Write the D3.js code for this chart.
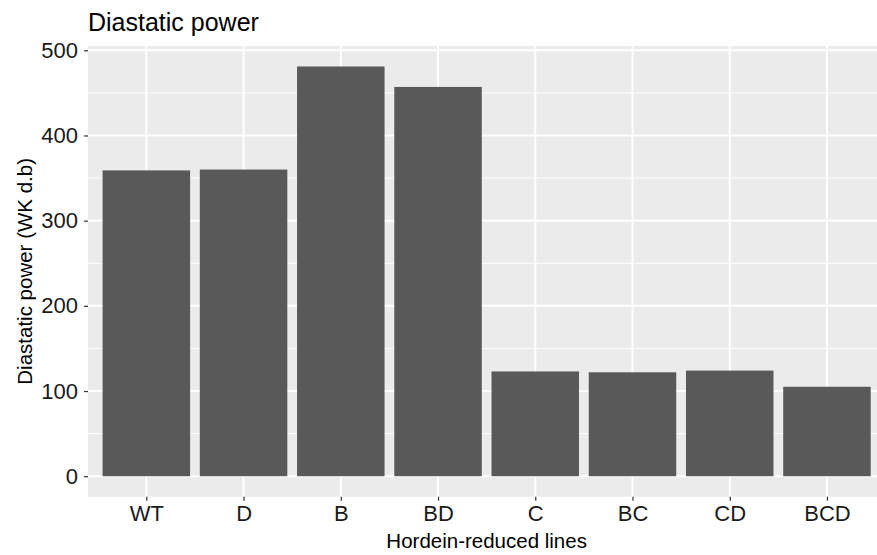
<!DOCTYPE html>
<html>
<head>
<meta charset="utf-8">
<script src="https://cdn.jsdelivr.net/npm/d3@7"></script>
<style>
  html, body { margin: 0; padding: 0; background: #fff; }
  svg { display: block; font-family: "Liberation Sans", Arial, sans-serif; }
</style>
</head>
<body>
<svg id="chart" width="877" height="555"></svg>
<script>
// Diastatic power of hordein-reduced barley lines
const lines = ["WT", "D", "B", "BD", "C", "BC", "CD", "BCD"];
const power = [359, 360, 481, 457, 123, 122, 124, 105];
const yTicks = [0, 100, 200, 300, 400, 500];
const yMinor = [50, 150, 250, 350, 450];

const titleText = "Diastatic power";
const xTitle = "Hordein-reduced lines";
const yTitle = "Diastatic power (WK d.b)";

const W = 877, H = 555;
const panel = { left: 88, top: 46, right: 885.3, bottom: 496.7 };

const svg = d3.select("#chart");

// Discrete x positions with ggplot-style 0.6 expansion on each side
const x = d3.scalePoint()
  .domain(lines)
  .range([panel.left, panel.right])
  .padding(0.6);
const barW = x.step() * 0.9;

// Continuous y with 5% expansion around [0, max]
const yMax = d3.max(power);
const pad = yMax * 0.05;
const y = d3.scaleLinear()
  .domain([-pad, yMax + pad])
  .range([panel.bottom, panel.top]);

// Panel background
svg.append("rect")
  .attr("x", panel.left).attr("y", panel.top)
  .attr("width", panel.right - panel.left)
  .attr("height", panel.bottom - panel.top)
  .attr("fill", "#EBEBEB");

const grid = svg.append("g");
// minor horizontal grid
grid.selectAll("line.minor").data(yMinor).join("line")
  .attr("x1", panel.left).attr("x2", panel.right)
  .attr("y1", d => y(d)).attr("y2", d => y(d))
  .attr("stroke", "#fff").attr("stroke-width", 1);
// major horizontal grid
grid.selectAll("line.majorY").data(yTicks).join("line")
  .attr("x1", panel.left).attr("x2", panel.right)
  .attr("y1", d => y(d)).attr("y2", d => y(d))
  .attr("stroke", "#fff").attr("stroke-width", 2);
// major vertical grid
grid.selectAll("line.majorX").data(lines).join("line")
  .attr("x1", d => x(d)).attr("x2", d => x(d))
  .attr("y1", panel.top).attr("y2", panel.bottom)
  .attr("stroke", "#fff").attr("stroke-width", 2);

// Bars
svg.append("g").selectAll("rect").data(lines).join("rect")
  .attr("x", d => x(d) - barW / 2)
  .attr("width", barW)
  .attr("y", (d, i) => y(power[i]))
  .attr("height", (d, i) => y(0) - y(power[i]))
  .attr("fill", "#595959");

// Axes
const yAxis = d3.axisLeft(y).tickValues(yTicks).tickSize(4).tickPadding(6);
const gy = svg.append("g")
  .attr("transform", `translate(${panel.left},0)`)
  .call(yAxis);
gy.select(".domain").remove();
gy.selectAll(".tick line").attr("stroke", "#333").attr("stroke-width", 1.2);
gy.selectAll(".tick text")
  .attr("fill", "#1a1a1a").attr("font-size", 22)
  .attr("font-family", "Liberation Sans, Arial, sans-serif");

const xAxis = d3.axisBottom(x).tickSize(4).tickPadding(5);
const gx = svg.append("g")
  .attr("transform", `translate(0,${panel.bottom})`)
  .call(xAxis);
gx.select(".domain").remove();
gx.selectAll(".tick line").attr("stroke", "#333").attr("stroke-width", 1.2);
gx.selectAll(".tick text")
  .attr("fill", "#1a1a1a").attr("font-size", 22)
  .attr("font-family", "Liberation Sans, Arial, sans-serif");

// Titles
svg.append("text")
  .attr("x", panel.left).attr("y", 30.5)
  .attr("font-size", 25).attr("fill", "#000")
  .text(titleText);

svg.append("text")
  .attr("x", (panel.left + panel.right) / 2).attr("y", 548)
  .attr("text-anchor", "middle")
  .attr("font-size", 20.5).attr("fill", "#000")
  .text(xTitle);

svg.append("text")
  .attr("transform", `translate(32,${(panel.top + panel.bottom) / 2}) rotate(-90)`)
  .attr("text-anchor", "middle")
  .attr("font-size", 20.5).attr("fill", "#000")
  .text(yTitle);
</script>
</body>
</html>
